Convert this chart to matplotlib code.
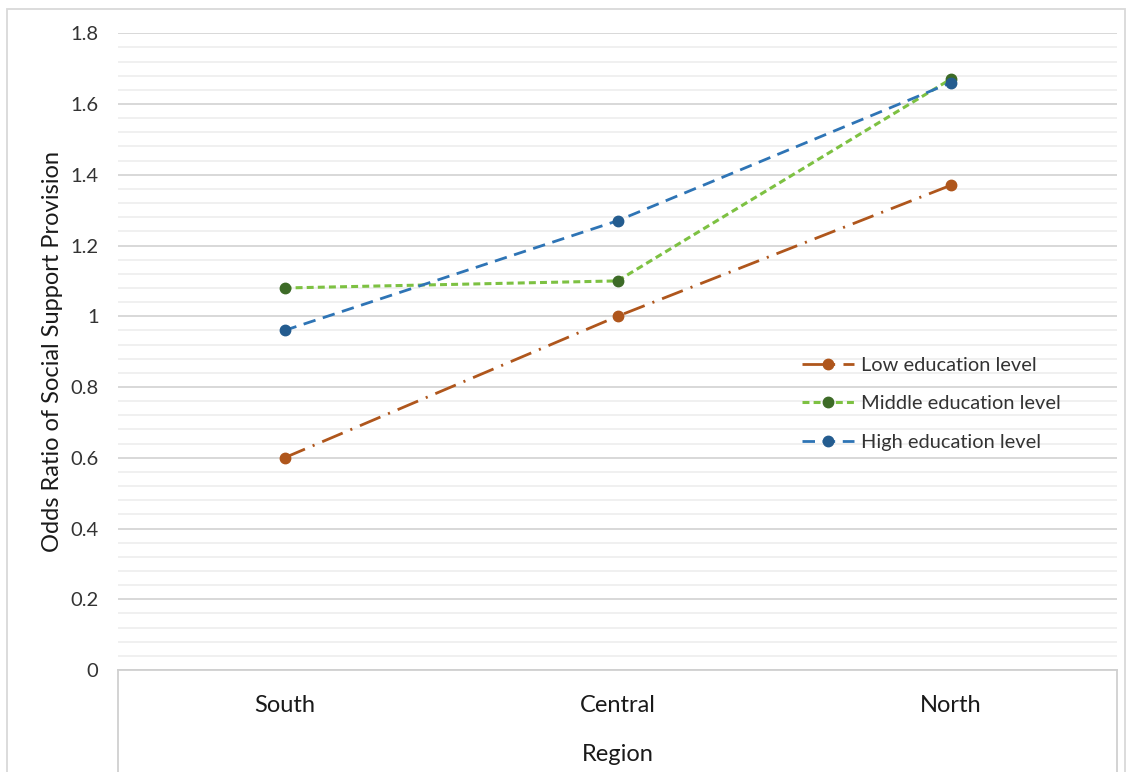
import matplotlib
matplotlib.use("Agg")
import matplotlib.pyplot as plt
from matplotlib.ticker import MultipleLocator
from matplotlib.patches import Rectangle

plt.rcParams['font.family'] = ['Lato', 'DejaVu Sans']
plt.rcParams['lines.scale_dashes'] = False

regions = ["South", "Central", "North"]
low = [0.60, 1.00, 1.37]
middle = [1.08, 1.10, 1.67]
high = [0.96, 1.27, 1.66]
series_labels = ["Low education level", "Middle education level", "High education level"]
y_ticks = [0, 0.2, 0.4, 0.6, 0.8, 1.0, 1.2, 1.4, 1.6, 1.8]
y_tick_labels = ["0", "0.2", "0.4", "0.6", "0.8", "1", "1.2", "1.4", "1.6", "1.8"]

fig = plt.figure(figsize=(11.28, 7.72), dpi=100)
ax = fig.add_axes([118/1128, (772-670)/772, (1117-118)/1128, (670-33.3)/772])

x = list(range(len(regions)))
ax.plot(x, low, color='#AF561C', lw=2.0, linestyle=(0, (16, 6, 1.5, 6)),
        marker='o', ms=7.5, markerfacecolor='#AF561C', markeredgecolor='#AF561C',
        label=series_labels[0], zorder=3)
ax.plot(x, middle, color='#7DC142', lw=2.2, linestyle=(0, (5, 3)),
        marker='o', ms=7.5, markerfacecolor='#3D6B27', markeredgecolor='#3D6B27',
        label=series_labels[1], zorder=3)
ax.plot(x, high, color='#2E74B5', lw=2.0, linestyle=(0, (9, 5.5)),
        marker='o', ms=7.5, markerfacecolor='#245C8F', markeredgecolor='#245C8F',
        label=series_labels[2], zorder=4)

ax.set_xlim(-0.5, len(regions) - 0.5)
ax.set_ylim(0, 1.8)
ax.set_yticks(y_ticks)
ax.set_yticklabels(y_tick_labels)
ax.yaxis.set_minor_locator(MultipleLocator(0.04))
ax.grid(which='major', axis='y', color='#D6D6D6', lw=1.3)
ax.grid(which='minor', axis='y', color='#EEEEEE', lw=1.2)
ax.set_axisbelow(True)
ax.tick_params(axis='y', which='both', length=0, pad=14, labelsize=14.5, colors='#333333')
ax.tick_params(axis='x', length=0, pad=18, labelsize=17, colors='#1a1a1a')
ax.set_xticks(x)
ax.set_xticklabels(regions)
for s in ['left', 'right', 'top']:
    ax.spines[s].set_visible(False)
ax.spines['bottom'].set_color('#D0D0D0')
ax.spines['bottom'].set_linewidth(1.3)

# category axis box lines
for xp in (0, 1):
    ax.plot([xp, xp], [0, -0.2], transform=ax.transAxes, color='#D0D0D0', lw=1.3, clip_on=False)

ax.set_xlabel("Region", fontsize=17, labelpad=20, color='#1a1a1a')
ax.set_ylabel("Odds Ratio of Social Support Provision", fontsize=17, labelpad=5, color='#1a1a1a')

leg = ax.legend(loc='center left', bbox_to_anchor=(0.685, 0.418), frameon=False,
                fontsize=14.4, handlelength=2.6, handletextpad=0.35, labelspacing=1.07,
                borderpad=0, borderaxespad=0)
for t in leg.get_texts():
    t.set_color('#333333')

# outer chart border
fig.patches.append(Rectangle((7/1128, -0.01), (1125-7)/1128, (772-9)/772 + 0.01,
                             transform=fig.transFigure, fill=False, edgecolor='#D9D9D9', lw=1.3))

fig.savefig("out.png", dpi=100)
